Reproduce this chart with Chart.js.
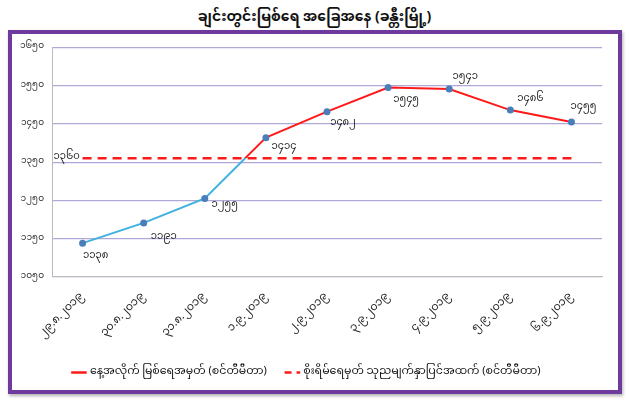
<!DOCTYPE html>
<html>
<head>
<meta charset="utf-8">
<script src="https://cdn.jsdelivr.net/npm/chart.js@4/dist/chart.umd.min.js"></script>
<style>
  html, body { margin: 0; padding: 0; background: #fff; }
  body { width: 629px; height: 400px; overflow: hidden; font-family: 'Noto Sans Myanmar', 'Padauk', 'Myanmar Text', 'Noto Sans', sans-serif; }
  #title { position: absolute; left: 0; top: 2px; width: 629px; text-align: center; font-size: 14px; font-weight: bold; color: #111; }
  #frame { position: absolute; left: 8px; top: 30px; width: 606px; height: 356px; border: 4px solid #6e3a9e; box-shadow: 1px 2px 3px rgba(0,0,0,0.3); background: #fff; }
  #frame canvas { display: block; }
</style>
</head>
<body>
<div id="title">ချင်းတွင်းမြစ်ရေ အခြေအနေ (ခန္တီးမြို့)</div>
<div id="frame"><canvas id="chart" width="606" height="356"></canvas></div>
<script>
const categories = ['၂၉.၈.၂၀၁၉', '၃၀.၈.၂၀၁၉', '၃၁.၈.၂၀၁၉', '၁.၉.၂၀၁၉', '၂.၉.၂၀၁၉', '၃.၉.၂၀၁၉', '၄.၉.၂၀၁၉', '၅.၉.၂၀၁၉', '၆.၉.၂၀၁၉'];
const waterLevel = [1138, 1191, 1255, 1414, 1482, 1545, 1541, 1486, 1455];
const dangerLevel = [1360, 1360, 1360, 1360, 1360, 1360, 1360, 1360, 1360];
const yTicks = [1050, 1150, 1250, 1350, 1450, 1550, 1650];
const seriesNames = ['နေ့အလိုက် မြစ်ရေအမှတ် (စင်တီမီတာ)', 'စိုးရိမ်ရေမှတ် သုညမျက်နှာပြင်အထက် (စင်တီမီတာ)'];

// label offsets (dx, dy) for each water level point
const labelOffsets = [[13, 14], [20, 15], [20, 8], [18, 10], [16, 12], [18, 13], [16, -11], [20, -10], [12, -14]];

const mmFont = "'Noto Sans Myanmar', 'Padauk', 'Myanmar Text', 'Noto Sans', sans-serif";
const toMyanmar = n => String(n).replace(/[0-9]/g, d => '၀၁၂၃၄၅၆၇၈၉'[d]);

// blue below the danger level, red above it
function levelGradient(context) {
  const chart = context.chart;
  const { ctx, chartArea, scales } = chart;
  if (!chartArea) return '#3fb0e0';
  const yDanger = scales.y.getPixelForValue(dangerLevel[0]);
  const g = ctx.createLinearGradient(0, chartArea.bottom, 0, chartArea.top);
  const stop = Math.min(1, Math.max(0, (chartArea.bottom - yDanger) / (chartArea.bottom - chartArea.top)));
  g.addColorStop(0, '#3fb0e0');
  g.addColorStop(stop, '#3fb0e0');
  g.addColorStop(stop, '#ff1a1a');
  g.addColorStop(1, '#ff1a1a');
  return g;
}

const valueLabels = {
  id: 'valueLabels',
  afterDatasetsDraw(chart) {
    const { ctx } = chart;
    ctx.save();
    ctx.font = '10px ' + mmFont;
    ctx.fillStyle = '#222';
    ctx.textAlign = 'center';
    ctx.textBaseline = 'middle';
    chart.getDatasetMeta(0).data.forEach((pt, i) => {
      const [dx, dy] = labelOffsets[i];
      ctx.fillText(toMyanmar(waterLevel[i]), pt.x + dx, pt.y + dy);
    });
    const first = chart.getDatasetMeta(1).data[0];
    ctx.fillText(toMyanmar(dangerLevel[0]), first.x - 16, first.y);
    ctx.restore();
  }
};

new Chart(document.getElementById('chart'), {
  type: 'line',
  data: {
    labels: categories,
    datasets: [
      {
        label: seriesNames[0],
        data: waterLevel,
        borderColor: levelGradient,
        borderWidth: 2,
        pointRadius: 2.5,
        pointBackgroundColor: '#4a7ebb',
        pointBorderColor: '#4a7ebb',
        tension: 0,
        fill: false
      },
      {
        label: seriesNames[1],
        data: dangerLevel,
        borderColor: '#ff1a1a',
        borderWidth: 2.5,
        borderDash: [9, 6],
        pointRadius: 0,
        fill: false
      }
    ]
  },
  plugins: [valueLabels],
  options: {
    responsive: false,
    animation: false,
    layout: { padding: { left: 0, right: 16, top: 8, bottom: 2 } },
    scales: {
      x: {
        offset: true,
        grid: { display: false },
        border: { color: '#bbb' },
        ticks: { font: { size: 11, family: mmFont }, color: '#222', minRotation: 45, maxRotation: 45, padding: 6 }
      },
      y: {
        min: 1050,
        max: 1650,
        afterBuildTicks: scale => { scale.ticks = yTicks.map(v => ({ value: v })); },
        grid: { color: '#b0a8d6', lineWidth: 1.2, drawTicks: false },
        border: { color: '#bbb' },
        ticks: { font: { size: 9, family: mmFont }, color: '#333', padding: 8, callback: v => toMyanmar(v) }
      }
    },
    plugins: {
      legend: {
        position: 'bottom',
        labels: {
          usePointStyle: true,
          pointStyle: 'line',
          boxWidth: 24,
          font: { size: 11, family: mmFont },
          color: '#111',
          padding: 20,
          generateLabels: chart => chart.data.datasets.map((ds, i) => ({
            text: ds.label,
            datasetIndex: i,
            strokeStyle: '#ff1a1a',
            fillStyle: '#ff1a1a',
            lineWidth: 2.5,
            lineDash: i === 1 ? [7, 5] : [],
            pointStyle: 'line',
            fontColor: '#111'
          }))
        }
      },
      tooltip: { enabled: false }
    }
  }
});
</script>
</body>
</html>
